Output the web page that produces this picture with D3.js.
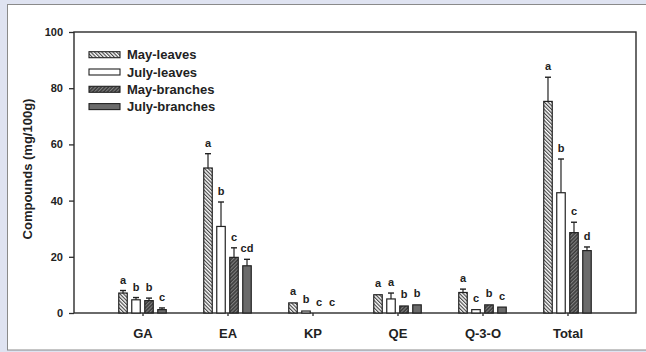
<!DOCTYPE html>
<html>
<head>
<meta charset="utf-8">
<script src="https://cdn.jsdelivr.net/npm/d3@7"></script>
<style>
  html, body { margin: 0; padding: 0; background: #dfe3f1; }
  svg { display: block; font-family: "Liberation Sans", Arial, sans-serif; font-weight: bold; }
</style>
</head>
<body>
<div id="chart"></div>
<script>
// data
var categories = ["GA", "EA", "KP", "QE", "Q-3-O", "Total"];
var seriesNames = ["May-leaves", "July-leaves", "May-branches", "July-branches"];
var mayLeaves = [7.1, 51.6, 3.6, 6.5, 7.3, 75.3];
var julyLeaves = [4.7, 30.8, 0.7, 5.0, 1.2, 42.8];
var mayBranches = [4.4, 19.8, 0, 2.5, 2.9, 28.6];
var julyBranches = [1.2, 16.8, 0, 2.9, 2.1, 22.2];
var mayLeavesErr = [0.9, 5.1, 0.3, 0.3, 1.2, 8.6];
var julyLeavesErr = [0.8, 8.7, 0.4, 2.1, 0.2, 12.0];
var mayBranchesErr = [0.9, 3.4, 0, 0.2, 0.2, 3.7];
var julyBranchesErr = [0.6, 2.3, 0, 0.2, 0.2, 1.3];
var mayLeavesSig = ["a", "a", "a", "a", "a", "a"];
var julyLeavesSig = ["b", "b", "b", "a", "c", "b"];
var mayBranchesSig = ["b", "c", "c", "b", "b", "c"];
var julyBranchesSig = ["c", "cd", "c", "b", "c", "d"];
var yTicks = [0, 20, 40, 60, 80, 100];

var values = [mayLeaves, julyLeaves, mayBranches, julyBranches];
var errors = [mayLeavesErr, julyLeavesErr, mayBranchesErr, julyBranchesErr];
var sigs = [mayLeavesSig, julyLeavesSig, mayBranchesSig, julyBranchesSig];

var rows = [];
categories.forEach(function(c, i) {
    seriesNames.forEach(function(s, j) {
        rows.push({cat: c, series: s, value: values[j][i], err: errors[j][i], sig: sigs[j][i]});
    });
});

var width = 646, height = 352;
var plot = {left: 74, right: 636, top: 32, bottom: 313};

var svg = d3.select("#chart").append("svg")
    .attr("width", width)
    .attr("height", height);

// patterns
var defs = svg.append("defs");
function hatch(id, angle, bg, line, w) {
    var p = defs.append("pattern")
        .attr("id", id)
        .attr("patternUnits", "userSpaceOnUse")
        .attr("width", 2.6).attr("height", 2.6)
        .attr("patternTransform", "rotate(" + angle + ")");
    p.append("rect").attr("width", 2.6).attr("height", 2.6).attr("fill", bg);
    p.append("line").attr("x1", 0.6).attr("y1", 0).attr("x2", 0.6).attr("y2", 2.6)
        .attr("stroke", line).attr("stroke-width", w);
}
hatch("hatchMay", -45, "#ffffff", "#3a3a3a", 1.1);
hatch("hatchBranch", 45, "#3c3c3c", "#9a9a9a", 0.8);

var fills = d3.scaleOrdinal()
    .domain(seriesNames)
    .range(["url(#hatchMay)", "#ffffff", "url(#hatchBranch)", "#6b6b6b"]);

// white panel
svg.append("rect")
    .attr("x", 7.5).attr("y", 4.5)
    .attr("width", 700).attr("height", 345.5)
    .attr("fill", "#ffffff")
    .attr("stroke", "#8a8a8a")
    .attr("stroke-width", 1);

var x = d3.scalePoint()
    .domain(categories)
    .range([plot.left, plot.right])
    .padding(0.806);

var xSeries = d3.scalePoint()
    .domain(seriesNames)
    .range([-19.5, 19.5]);
var barW = 8.5;

var y = d3.scaleLinear()
    .domain([0, 100])
    .range([plot.bottom, plot.top]);

// frame
svg.append("rect")
    .attr("x", plot.left).attr("y", plot.top)
    .attr("width", plot.right - plot.left).attr("height", plot.bottom - plot.top)
    .attr("fill", "none")
    .attr("stroke", "#2b2b2b")
    .attr("stroke-width", 1.4);

// bars
var bars = svg.append("g").selectAll("g")
    .data(rows)
    .enter().append("g")
    .attr("transform", function(d) { return "translate(" + (x(d.cat) + xSeries(d.series)) + ",0)"; });

bars.append("rect")
    .attr("x", -barW / 2)
    .attr("y", function(d) { return y(d.value); })
    .attr("width", barW)
    .attr("height", function(d) { return y(0) - y(d.value); })
    .attr("fill", function(d) { return fills(d.series); })
    .attr("stroke", "#222")
    .attr("stroke-width", function(d) { return d.value > 0 ? 1.2 : 0; });

// error bars (upper only)
var eb = bars.filter(function(d) { return d.err > 0.5; });
eb.append("line")
    .attr("x1", 0).attr("x2", 0)
    .attr("y1", function(d) { return y(d.value); })
    .attr("y2", function(d) { return y(d.value + d.err); })
    .attr("stroke", "#222").attr("stroke-width", 1.2);
eb.append("line")
    .attr("x1", -3).attr("x2", 3)
    .attr("y1", function(d) { return y(d.value + d.err); })
    .attr("y2", function(d) { return y(d.value + d.err); })
    .attr("stroke", "#222").attr("stroke-width", 1.4);

bars.append("text")
    .attr("x", 0)
    .attr("y", function(d) { return y(d.value + d.err) - 7; })
    .attr("text-anchor", "middle")
    .style("font-size", "11px")
    .attr("fill", "#222")
    .text(function(d) { return d.sig; });

// axes
var yAxis = d3.axisLeft(y)
    .tickValues(yTicks)
    .tickSize(5)
    .tickPadding(6)
    .tickSizeOuter(0);

svg.append("g")
    .attr("transform", "translate(" + plot.left + ",0)")
    .call(yAxis)
    .call(function(g) {
        g.select(".domain").remove();
        g.selectAll(".tick line").attr("stroke", "#2b2b2b").attr("stroke-width", 1.3);
        g.selectAll(".tick text").attr("fill", "#222")
            .style("font-size", "11px").style("font-weight", "bold")
            .style("font-family", "'Liberation Sans', Arial, sans-serif");
    });

var xAxis = d3.axisBottom(x)
    .tickSize(3)
    .tickPadding(12.8)
    .tickSizeOuter(0);

svg.append("g")
    .attr("transform", "translate(0," + plot.bottom + ")")
    .call(xAxis)
    .call(function(g) {
        g.select(".domain").remove();
        g.selectAll(".tick line").attr("stroke", "#2b2b2b").attr("stroke-width", 1.3);
        g.selectAll(".tick text").attr("fill", "#222")
            .style("font-size", "13px").style("font-weight", "bold")
            .style("font-family", "'Liberation Sans', Arial, sans-serif");
    });

svg.append("text")
    .attr("transform", "translate(32,169) rotate(-90)")
    .attr("text-anchor", "middle")
    .style("font-size", "13px")
    .attr("fill", "#222")
    .text("Compounds (mg/100g)");

// legend
var legend = svg.append("g")
    .selectAll("g")
    .data(seriesNames)
    .enter().append("g")
    .attr("transform", function(d, i) { return "translate(89," + (54.7 + i * 17.3) + ")"; });

legend.append("rect")
    .attr("x", 0).attr("y", -3)
    .attr("width", 31).attr("height", 6)
    .attr("fill", function(d) { return fills(d); })
    .attr("stroke", "#222")
    .attr("stroke-width", 1.1);

legend.append("text")
    .attr("x", 38).attr("y", 4.7)
    .style("font-size", "13px")
    .attr("fill", "#222")
    .text(function(d) { return d; });
</script>
</body>
</html>
